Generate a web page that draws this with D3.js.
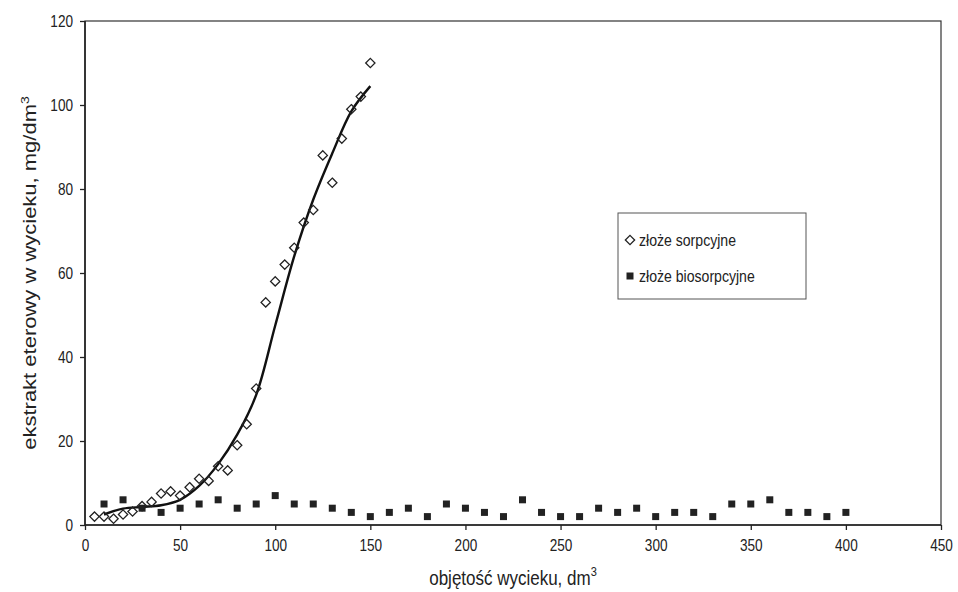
<!DOCTYPE html>
<html>
<head>
  <meta charset="utf-8">
  <title>ekstrakt eterowy w wycieku</title>
  <script src="https://d3js.org/d3.v7.min.js"></script>
  <style>
    body { margin: 0; background: #fff; }
    text { font-family: "Liberation Sans", Arial, sans-serif; fill: #222; }
  </style>
</head>
<body>
<svg id="chart" width="958" height="592"></svg>
<script>
// złoże sorpcyjne (diamonds)
const sorpX = [5, 10, 15, 20, 25, 30, 35, 40, 45, 50, 55, 60, 65, 70, 75, 80, 85, 90, 95, 100,
               105, 110, 115, 120, 125, 130, 135, 140, 145, 150];
const sorpY = [2, 2, 1.5, 2.5, 3.2, 4.5, 5.5, 7.5, 8, 7, 9, 11, 10.5, 14, 13, 19, 24, 32.5, 53, 58,
               62, 66, 72, 75, 88, 81.5, 92, 99, 102, 110];

// złoże biosorpcyjne (squares)
const bioX = [10, 20, 30, 40, 50, 60, 70, 80, 90, 100, 110, 120, 130, 140, 150, 160, 170, 180, 190, 200,
              210, 220, 230, 240, 250, 260, 270, 280, 290, 300, 310, 320, 330, 340, 350, 360, 370, 380, 390, 400];
const bioY = [5, 6, 4, 3, 4, 5, 6, 4, 5, 7, 5, 5, 4, 3, 2, 3, 4, 2, 5, 4,
              3, 2, 6, 3, 2, 2, 4, 3, 4, 2, 3, 3, 2, 5, 5, 6, 3, 3, 2, 3];

// trend line
const trendX = [10, 20, 30, 40, 50, 60, 70, 80, 90, 100, 110, 120, 130, 140, 150];
const trendY = [2.5, 3.9, 4.3, 4.7, 6, 9.3, 14.5, 21.5, 31, 47.5, 64, 77.5, 88.5, 98.5, 104.5];

const xTicks = [0, 50, 100, 150, 200, 250, 300, 350, 400, 450];
const yTicks = [0, 20, 40, 60, 80, 100, 120];
const legendLabels = ["złoże sorpcyjne", "złoże biosorpcyjne"];

const mLeft = 85, mRight = 941, mTop = 21, mBottom = 525;
const squeeze = 0.8; // the scanned lettering is narrow
const svg = d3.select("#chart");

const x = d3.scaleLinear().domain([0, 450]).range([mLeft, mRight]);
const y = d3.scaleLinear().domain([0, 120]).range([mBottom, mTop]);

// frame
svg.append("rect")
    .attr("x", mLeft).attr("y", mTop)
    .attr("width", mRight - mLeft).attr("height", mBottom - mTop)
    .attr("fill", "none").attr("stroke", "#333").attr("stroke-width", 1.2);
svg.append("path")
    .attr("d", `M${mLeft},${mTop}V${mBottom}H${mRight}`)
    .attr("fill", "none").attr("stroke", "#222").attr("stroke-width", 1.6);

// axes
const xAxis = svg.append("g")
    .attr("transform", `translate(0,${mBottom})`)
    .call(d3.axisBottom(x).tickValues(xTicks).tickSize(5).tickPadding(9));
const yAxis = svg.append("g")
    .attr("transform", `translate(${mLeft},0)`)
    .call(d3.axisLeft(y).tickValues(yTicks).tickSize(5).tickPadding(10));
[xAxis, yAxis].forEach(g => {
    g.select(".domain").remove();
    g.selectAll("line").attr("stroke", "#222").attr("stroke-width", 1.3);
    g.selectAll("text").style("font-size", "17px")
        .style("font-family", "'Liberation Sans', Arial, sans-serif")
        .attr("fill", "#222")
        .attr("transform", `scale(${squeeze},1)`);
});

// titles
const xt = svg.append("text")
    .attr("transform", `translate(513,585) scale(0.85,1)`)
    .attr("text-anchor", "middle")
    .style("font-size", "20px");
xt.append("tspan").text("objętość wycieku, dm");
xt.append("tspan").attr("dy", -9).style("font-size", "13px").text("3");

const yt = svg.append("text")
    .attr("transform", `translate(36,273) rotate(-90) scale(1,${squeeze})`)
    .attr("text-anchor", "middle")
    .style("font-size", "22px");
yt.append("tspan").text("ekstrakt eterowy w wycieku, mg/dm");
yt.append("tspan").attr("dy", -9).style("font-size", "14px").text("3");

// trend line
const trend = trendX.map((d, i) => [d, trendY[i]]);
svg.append("path")
    .datum(trend)
    .attr("d", d3.line().x(d => x(d[0])).y(d => y(d[1])).curve(d3.curveCatmullRom))
    .attr("fill", "none").attr("stroke", "#111").attr("stroke-width", 2.4);

// squares
const sq = 7;
svg.append("g").selectAll("rect")
    .data(bioX.map((d, i) => [d, bioY[i]]))
    .join("rect")
    .attr("x", d => x(d[0]) - sq / 2)
    .attr("y", d => y(d[1]) - sq / 2)
    .attr("width", sq).attr("height", sq)
    .attr("fill", "#222");

// diamonds
const diamond = d3.symbol().type(d3.symbolDiamond2).size(55);
svg.append("g").selectAll("path")
    .data(sorpX.map((d, i) => [d, sorpY[i]]))
    .join("path")
    .attr("d", diamond)
    .attr("transform", d => `translate(${x(d[0])},${y(d[1])})`)
    .attr("fill", "none").attr("stroke", "#222").attr("stroke-width", 1.3);

// legend
const legend = svg.append("g");
legend.append("rect")
    .attr("x", 618).attr("y", 213).attr("width", 188).attr("height", 86)
    .attr("fill", "none").attr("stroke", "#555").attr("stroke-width", 1);
legend.append("path")
    .attr("d", diamond)
    .attr("transform", "translate(630,240)")
    .attr("fill", "none").attr("stroke", "#222").attr("stroke-width", 1.3);
legend.append("rect")
    .attr("x", 630 - sq / 2).attr("y", 276 - sq / 2)
    .attr("width", sq).attr("height", sq).attr("fill", "#222");
legend.selectAll("text.lab")
    .data(legendLabels)
    .join("text")
    .attr("class", "lab")
    .attr("transform", (d, i) => `translate(639,${246 + i * 36}) scale(0.88,1)`)
    .style("font-size", "16px")
    .text(d => d);
</script>
</body>
</html>
